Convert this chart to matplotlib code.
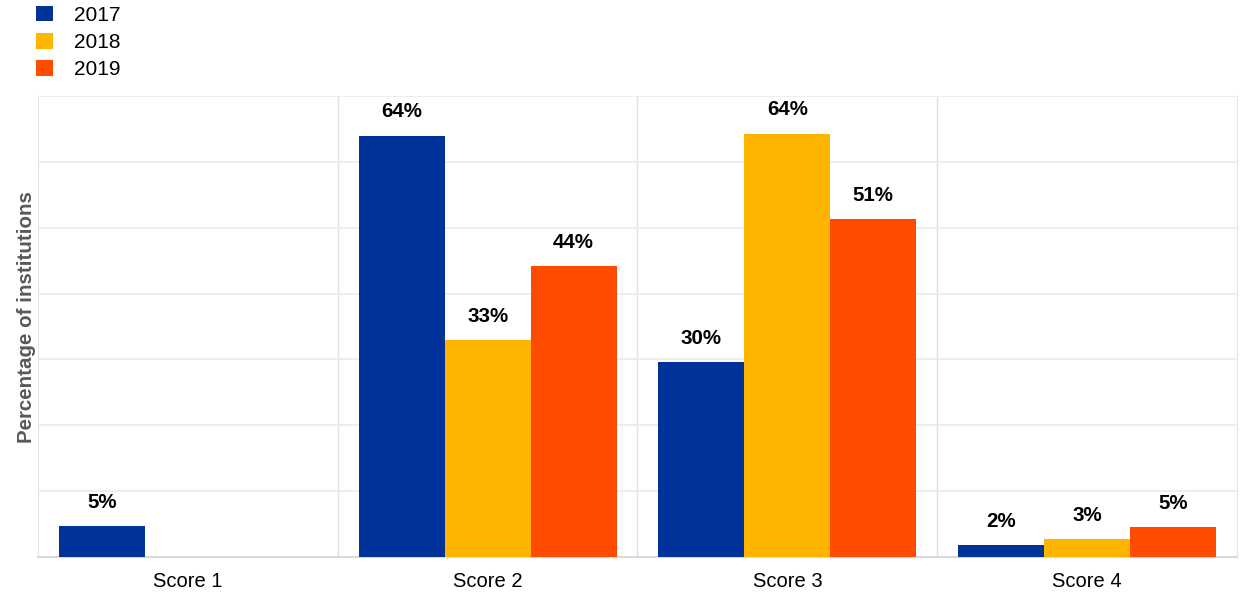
import numpy as np
import matplotlib.pyplot as plt

plt.rcParams['font.family'] = ['Liberation Sans', 'DejaVu Sans']

categories = ['Score 1', 'Score 2', 'Score 3', 'Score 4']
years = ['2017', '2018', '2019']
values_2017 = [4.7, 64.0, 29.6, 1.8]
values_2018 = [0.0, 33.0, 64.3, 2.7]
values_2019 = [0.0, 44.2, 51.3, 4.6]
colors = ['#003299', '#FFB400', '#FF4B00']

fig = plt.figure(figsize=(12.4, 6.02), dpi=100)
ax = fig.add_axes([0.0306, 0.0748, 0.967, 0.7657])

x = np.arange(len(categories))
width = 0.86 / 3
series = [values_2017, values_2018, values_2019]
for i, (vals, col, yr) in enumerate(zip(series, colors, years)):
    pos = x - 0.43 + width * (i + 0.5)
    ax.bar(pos, vals, width, color=col, label=yr, zorder=3)
    for xp, v in zip(pos, vals):
        if v <= 0:
            continue
        ax.annotate(f'{v:.0f}%', (xp, v), xytext=(0, 17), textcoords='offset points',
                    ha='center', va='center', fontsize=14.8, fontweight='bold', zorder=4)

ax.set_xlim(-0.5, len(categories) - 0.5)
ax.set_ylim(0, 70)
ax.set_yticks(np.arange(0, 71, 10))
ax.tick_params(axis='y', length=0, labelleft=False)
ax.tick_params(axis='x', length=0, labelsize=14.5, pad=11)
ax.set_xticks(x)
ax.set_xticklabels(categories)
ax.grid(axis='y', color='#ebebeb', linewidth=1.2, zorder=0)
for b in x[:-1] + 0.5:
    ax.axvline(b, color='#e0e0e0', linewidth=1, zorder=1)

for s in ['left', 'right']:
    ax.spines[s].set_color('#e6e6e6')
ax.spines['top'].set_visible(False)
ax.spines['bottom'].set_color('#d9d9d9')
ax.spines['bottom'].set_linewidth(1.5)

ax.set_ylabel('Percentage of institutions', fontsize=14.8, fontweight='bold', color='#595959')
ax.yaxis.set_label_coords(-0.002, 0.52)

fig.legend(loc='upper left', bbox_to_anchor=(0.014, 1.022), frameon=False, fontsize=15,
           handlelength=0.8, handleheight=0.8, handletextpad=1.0, labelspacing=0.38)

fig.savefig('out.png', dpi=100)
